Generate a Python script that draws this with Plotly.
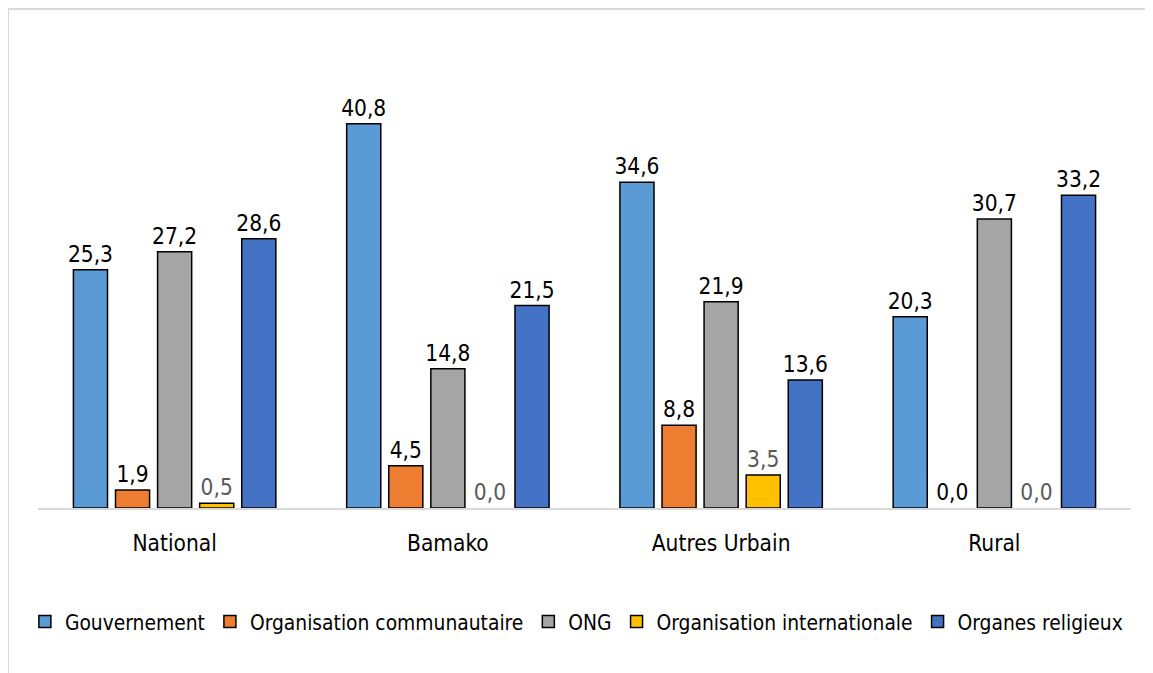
import plotly.graph_objects as go

# Categories and series
categories = ["National", "Bamako", "Autres Urbain", "Rural"]
gouvernement = [25.3, 40.8, 34.6, 20.3]
org_communautaire = [1.9, 4.5, 8.8, 0.0]
ong = [27.2, 14.8, 21.9, 30.7]
org_internationale = [0.5, 0.0, 3.5, 0.0]
organes_religieux = [28.6, 21.5, 13.6, 33.2]

series = [
    ("Gouvernement", gouvernement, "#5B9BD5", "#000000"),
    ("Organisation communautaire", org_communautaire, "#ED7D31", "#000000"),
    ("ONG", ong, "#A5A5A5", "#000000"),
    ("Organisation internationale", org_internationale, "#FFC000", "#595959"),
    ("Organes religieux", organes_religieux, "#4472C4", "#000000"),
]

police = "DejaVu Sans Condensed, Liberation Sans Narrow, sans-serif"

fig = go.Figure()
for nom, valeurs, couleur, couleur_txt in series:
    fig.add_trace(go.Bar(
        name=nom,
        x=categories,
        y=valeurs,
        marker=dict(
            color=couleur,
            # pas de contour pour les barres nulles
            line=dict(color="#000000", width=[0 if v == 0 else 1.5 for v in valeurs]),
        ),
        texttemplate="%{y:.1f}",
        textposition="outside",
        constraintext="none",
        textfont=dict(size=22.5, color=couleur_txt, family=police),
        cliponaxis=False,
    ))

fig.update_layout(
    width=1145,
    height=665,
    paper_bgcolor="white",
    plot_bgcolor="white",
    separators=", ",
    barmode="group",
    bargap=0.23,
    bargroupgap=0.19,
    font=dict(family=police, size=22.5, color="#000000"),
    margin=dict(l=30, r=22, t=32, b=165, autoexpand=False),
    xaxis=dict(
        showline=True,
        linecolor="#D9D9D9",
        linewidth=2,
        showgrid=False,
        ticks="",
        tickangle=0,
        tickfont=dict(size=22.5, color="#000000"),
        ticklabelstandoff=14,
    ),
    yaxis=dict(
        range=[0, 49.7],
        visible=False,
        showgrid=False,
        zeroline=False,
    ),
    showlegend=True,
    legend=dict(
        orientation="h",
        x=-0.012,
        xanchor="left",
        y=-0.2436,
        yanchor="middle",
        font=dict(size=20.8, color="#000000"),
        itemwidth=30,
        traceorder="normal",
    ),
    shapes=[
        # cadre du graphique (haut et gauche)
        dict(type="line", xref="paper", yref="paper", x0=-0.0274, x1=1.03, y0=1.066, y1=1.066,
             line=dict(color="#D9D9D9", width=2)),
        dict(type="line", xref="paper", yref="paper", x0=-0.0274, x1=-0.0274, y0=1.066, y1=-0.36,
             line=dict(color="#D9D9D9", width=2)),
    ],
)

fig.write_html("out.html")
